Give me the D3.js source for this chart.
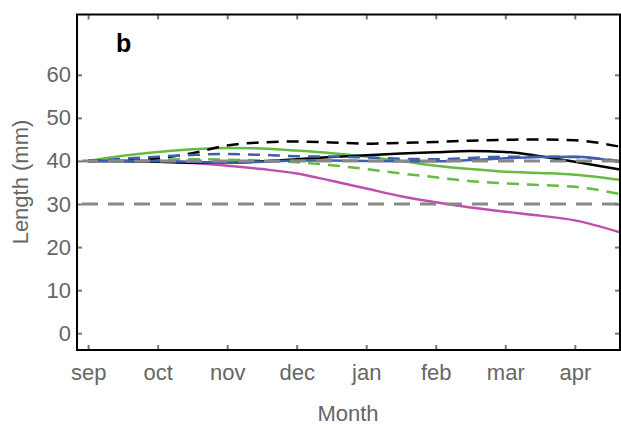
<!DOCTYPE html>
<html>
<head>
<meta charset="utf-8">
<script src="https://cdn.jsdelivr.net/npm/d3@7"></script>
<style>
  body { margin: 0; background: #fff; }
  text { font-family: "Liberation Sans", Arial, sans-serif; }
</style>
</head>
<body>
<div class="visHolder"></div>
<script>
// month axis
var monthLabels = ['sep', 'oct', 'nov', 'dec', 'jan', 'feb', 'mar', 'apr'];
var monthX = [0, 0.5, 1, 1.5, 2, 2.5, 3, 3.5, 4, 4.5, 5, 5.5, 6, 6.5, 7, 7.65];
var yTicks = [0, 10, 20, 30, 40, 50, 60];
var refLevels = [40, 30];

// series (length, mm) read at monthX
var greenSolid  = [40, 41.2, 42.1, 42.7, 43.0, 42.9, 42.4, 41.8, 41.0, 40.0, 38.9, 38.1, 37.5, 37.2, 36.8, 35.6];
var greenDashed = [40, 40.2, 40.3, 40.4, 40.3, 40.1, 39.7, 39.0, 38.1, 37.1, 36.2, 35.3, 34.8, 34.4, 34.0, 32.3];
var blackDashed = [40, 40.1, 40.6, 41.8, 43.6, 44.3, 44.5, 44.3, 44.0, 44.2, 44.4, 44.7, 44.9, 45.0, 44.8, 43.3];
var blackSolid  = [40, 39.9, 39.8, 39.6, 39.6, 39.9, 40.4, 40.9, 41.3, 41.7, 42.0, 42.3, 42.1, 41.1, 39.8, 38.0];
var blueSolid   = [40, 40.0, 40.0, 39.8, 39.6, 39.8, 40.1, 40.1, 40.0, 39.9, 39.9, 40.2, 40.6, 40.9, 41.0, 39.8];
var blueDashed  = [40, 40.5, 41.0, 41.4, 41.6, 41.4, 41.1, 41.0, 40.8, 40.5, 40.4, 40.7, 41.0, 41.0, 40.9, 40.0];
var magenta     = [40, 40.1, 40.0, 39.5, 38.9, 38.1, 37.1, 35.4, 33.6, 31.8, 30.4, 29.2, 28.2, 27.3, 26.2, 23.4];

var width = 621, height = 425;
var pLeft = 77, pRight = 620, pTop = 14.5, pBottom = 350;

var series = [
  {v: greenDashed, c: '#66bb44', dash: '12,8'},
  {v: greenSolid,  c: '#66bb44', dash: null},
  {v: magenta,     c: '#bf4fae', dash: null},
  {v: blackSolid,  c: '#000000', dash: null},
  {v: blackDashed, c: '#000000', dash: '12,8'},
  {v: blueSolid,   c: '#3f5fae', dash: null},
  {v: blueDashed,  c: '#3f5fae', dash: '12,8'}
];

var svg = d3.select('.visHolder')
  .append('svg')
  .attr('width', width)
  .attr('height', height);

var xScale = d3.scaleLinear().domain([-0.16, 7.65]).range([pLeft, pRight]);
var yScale = d3.scaleLinear().domain([-3.9, 74]).range([pBottom, pTop]);

svg.append('clipPath').attr('id', 'plotclip')
  .append('rect')
  .attr('x', pLeft).attr('y', pTop)
  .attr('width', pRight - pLeft).attr('height', pBottom - pTop);

var plot = svg.append('g').attr('clip-path', 'url(#plotclip)');

var line = d3.line()
  .x(function (d, i) { return xScale(monthX[i]); })
  .y(function (d) { return yScale(d); })
  .curve(d3.curveMonotoneX);

plot.selectAll('.series')
  .data(series)
  .enter()
  .append('path')
  .attr('class', 'series')
  .attr('d', function (d) { return line(d.v); })
  .attr('fill', 'none')
  .attr('stroke', function (d) { return d.c; })
  .attr('stroke-width', 2.5)
  .attr('stroke-dasharray', function (d) { return d.dash; });

// reference levels
plot.selectAll('.ref')
  .data(refLevels)
  .enter()
  .append('line')
  .attr('class', 'ref')
  .attr('x1', pLeft)
  .attr('x2', pRight)
  .attr('y1', function (d) { return yScale(d); })
  .attr('y2', function (d) { return yScale(d); })
  .attr('stroke', '#888')
  .attr('stroke-width', 3)
  .attr('stroke-dasharray', '16,10')
  .attr('stroke-dashoffset', -5);

var tickColor = '#777', labelColor = '#666';

var xAxis = d3.axisBottom(xScale)
  .tickValues(d3.range(monthLabels.length))
  .tickFormat(function (d) { return monthLabels[d]; })
  .tickSize(-5).tickPadding(14);
var xAxisTop = d3.axisTop(xScale)
  .tickValues(d3.range(monthLabels.length))
  .tickFormat('').tickSize(-5);
var yAxis = d3.axisLeft(yScale).tickValues(yTicks).tickSize(-5).tickPadding(6);
var yAxisRight = d3.axisRight(yScale).tickValues(yTicks).tickFormat('').tickSize(-5);

function styleAxis(g) {
  g.select('.domain').remove();
  g.selectAll('.tick line').attr('stroke', tickColor).attr('stroke-width', 2);
  g.selectAll('.tick text')
    .attr('fill', labelColor)
    .style('font-size', '22px');
}

svg.append('g').attr('transform', 'translate(0,' + pBottom + ')').call(xAxis).call(styleAxis);
svg.append('g').attr('transform', 'translate(0,' + pTop + ')').call(xAxisTop).call(styleAxis);
svg.append('g').attr('transform', 'translate(' + pLeft + ',0)').call(yAxis).call(styleAxis);
svg.append('g').attr('transform', 'translate(' + pRight + ',0)').call(yAxisRight).call(styleAxis);

// frame
svg.append('rect')
  .attr('x', pLeft).attr('y', pTop)
  .attr('width', pRight - pLeft).attr('height', pBottom - pTop)
  .attr('fill', 'none')
  .attr('stroke', '#000')
  .attr('stroke-width', 2);

svg.append('text')
  .attr('x', 116)
  .attr('y', 52)
  .style('font-size', '25px')
  .style('font-weight', 'bold')
  .text('b');

svg.append('text')
  .attr('x', 348)
  .attr('y', 421)
  .attr('text-anchor', 'middle')
  .attr('fill', labelColor)
  .style('font-size', '22px')
  .text('Month');

svg.append('text')
  .attr('transform', 'rotate(-90)')
  .attr('x', -182)
  .attr('y', 28)
  .attr('text-anchor', 'middle')
  .attr('fill', labelColor)
  .style('font-size', '22px')
  .text('Length (mm)');
</script>
</body>
</html>
